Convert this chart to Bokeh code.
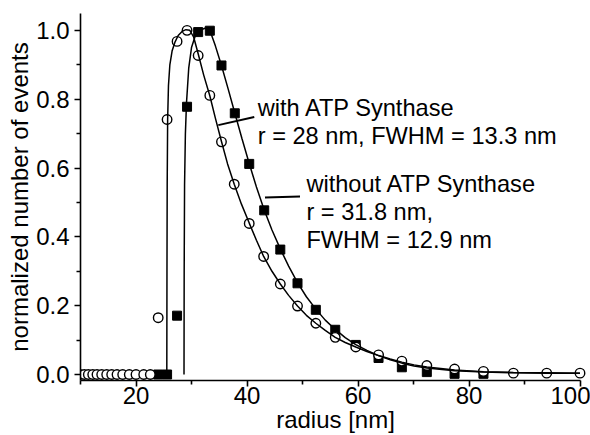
from bokeh.plotting import figure
from bokeh.models import ColumnDataSource, FixedTicker, NumeralTickFormatter, Label, Range1d
from bokeh.embed import file_html
from bokeh.resources import INLINE

FONT = "Liberation Sans"

# ---- data ----
radius_bins = [9.19, 9.96, 10.68, 11.41, 12.2, 12.97, 13.82, 14.72, 15.62, 16.58, 17.6, 18.79,
               20.0, 21.39, 22.58, 24.0, 25.6, 27.4, 29.2, 31.2, 33.3, 35.4, 37.7, 40.4, 43.0,
               46.0, 49.1, 52.4, 55.9, 59.6, 63.7, 67.9, 72.4, 77.4, 82.6, 88.0, 94.0, 100.0]
with_atp = [0, 0, 0, 0, 0, 0, 0, 0, 0, 0, 0, 0, 0, 0, 0,
            0.165, 0.741, 0.968, 1.0, 0.927, 0.811, 0.676, 0.553, 0.439, 0.343,
            0.263, 0.199, 0.149, 0.108, 0.08, 0.057, 0.039, 0.026, 0.016, 0.009, 0.004, 0.004, 0.004]

radius_sq = [24.0, 25.6, 27.4, 29.2, 31.2, 33.3, 35.4, 37.8, 40.4, 43.1, 46.0, 49.1, 52.4,
             55.9, 59.6, 63.7, 67.9, 72.4, 77.4, 82.6]
without_atp = [0, 0, 0.171, 0.778, 0.995, 0.999, 0.898, 0.759, 0.612, 0.477, 0.363, 0.265, 0.188,
               0.13, 0.086, 0.048, 0.021, 0.007, 0.002, 0.002]

fit_with_r = [25.55, 25.58, 25.62, 25.7, 25.85, 26.1, 26.5, 27.0, 27.6, 28.3, 29.0, 29.7, 30.4,
              31.2, 32.2, 33.3, 34.3, 35.4, 36.5, 37.7, 39.0, 40.4, 41.7, 43.0, 44.5, 46.0, 47.5,
              49.1, 50.7, 52.4, 54.1, 55.9, 57.7, 59.6, 61.6, 63.7, 65.8, 67.9, 70.1, 72.4, 77.4,
              82.6, 88.0, 94.0, 100.0]
fit_with_y = [0.0, 0.3, 0.55, 0.74, 0.84, 0.9, 0.94, 0.965, 0.985, 0.997, 1.002, 1.0, 0.98,
              0.932, 0.87, 0.81, 0.745, 0.677, 0.612, 0.553, 0.495, 0.44, 0.39, 0.343, 0.3, 0.263,
              0.23, 0.199, 0.172, 0.149, 0.128, 0.108, 0.093, 0.08, 0.067, 0.055, 0.045, 0.036,
              0.028, 0.022, 0.013, 0.008, 0.006, 0.005, 0.004]

fit_without_r = [28.65, 28.68, 28.75, 28.9, 29.1, 29.5, 30.0, 30.7, 31.5, 32.4, 33.3, 34.3, 35.4,
                 36.6, 37.8, 39.1, 40.4, 41.7, 43.1, 44.5, 46.0, 47.5, 49.1, 50.7, 52.4, 54.1,
                 55.9, 57.7, 59.6, 61.6, 63.7, 65.8, 67.9, 70.1, 72.4, 77.4, 82.6, 88.0, 94.0, 100.0]
fit_without_y = [0.0, 0.3, 0.55, 0.7, 0.79, 0.89, 0.95, 0.985, 1.0, 1.006, 1.0, 0.955, 0.898,
                 0.83, 0.76, 0.685, 0.613, 0.545, 0.478, 0.42, 0.365, 0.315, 0.267, 0.226, 0.19,
                 0.158, 0.131, 0.107, 0.087, 0.07, 0.055, 0.043, 0.033, 0.025, 0.019, 0.011,
                 0.007, 0.005, 0.004, 0.004]

x_ticks = [20, 40, 60, 80, 100]
x_minor = [10, 30, 50, 70, 90]
y_ticks = [0.0, 0.2, 0.4, 0.6, 0.8, 1.0]
y_minor = [0.1, 0.3, 0.5, 0.7, 0.9]

x_title = "radius [nm]"
y_title = "normalized number of events"
label_with = ["with ATP Synthase", "r = 28 nm, FWHM = 13.3 nm"]
label_without = ["without ATP Synthase", "r = 31.8 nm,", "FWHM = 12.9 nm"]

# ---- figure ----
p = figure(width=590, height=435, output_backend="svg", toolbar_location=None,
           x_range=Range1d(10, 101.89), y_range=Range1d(-0.0174, 1.049),
           min_border_left=80, min_border_right=0, min_border_top=13, min_border_bottom=55)
p.outline_line_color = None
p.grid.visible = False
p.background_fill_color = "white"
p.border_fill_color = "white"

for ax in (p.xaxis[0], p.yaxis[0]):
    ax.axis_line_width = 1.6
    ax.axis_line_color = "black"
    ax.major_tick_line_width = 1.6
    ax.minor_tick_line_width = 1.6
    ax.major_tick_in = 0
    ax.major_tick_out = 6
    ax.minor_tick_in = 0
    ax.minor_tick_out = 4
    ax.major_label_text_font = FONT
    ax.major_label_text_font_size = "24px"
    ax.major_label_text_color = "black"
    ax.axis_label_text_font = FONT
    ax.axis_label_text_font_size = "24px"
    ax.axis_label_text_font_style = "normal"
    ax.axis_label_text_color = "black"

p.xaxis.ticker = FixedTicker(ticks=x_ticks, minor_ticks=x_minor)
p.xaxis.bounds = (10, 100)
p.xaxis.major_label_standoff = 0
p.xaxis.axis_label = x_title
p.xaxis.axis_label_standoff = -1
p.yaxis.ticker = FixedTicker(ticks=y_ticks, minor_ticks=y_minor)
p.yaxis.formatter = NumeralTickFormatter(format="0.0")
p.yaxis.major_label_standoff = 5
p.yaxis.axis_label = y_title
p.yaxis.axis_label_standoff = 0

# markers
sq_src = ColumnDataSource(dict(r=radius_sq, v=without_atp))
ci_src = ColumnDataSource(dict(r=radius_bins, v=with_atp))
p.scatter("r", "v", source=sq_src, marker="square", size=9, fill_color="black", line_color="black")
p.scatter("r", "v", source=ci_src, marker="circle", size=9.5, fill_color="white",
          line_color="black", line_width=1.4)

# fit curves
p.line(fit_with_r, fit_with_y, line_color="black", line_width=1.5)
p.line(fit_without_r, fit_without_y, line_color="black", line_width=1.5)

# pointer lines
p.segment(x0=[34.83, 43.24], y0=[0.7246, 0.514], x1=[41.31, 49.55], y1=[0.748, 0.517],
          line_color="black", line_width=2)

def add_text(txt, x, y):
    p.add_layout(Label(x=x, y=y, text=txt, text_font=FONT, text_font_size="23.6px",
                       text_color="black", text_align="left", text_baseline="alphabetic"))

for txt, y in zip(label_with, [0.7745, 0.6935]):
    add_text(txt, 41.93, y)
for txt, y in zip(label_without, [0.5525, 0.4735, 0.3915]):
    add_text(txt, 50.7, y)

open("out.html", "w").write(file_html(p, INLINE))
